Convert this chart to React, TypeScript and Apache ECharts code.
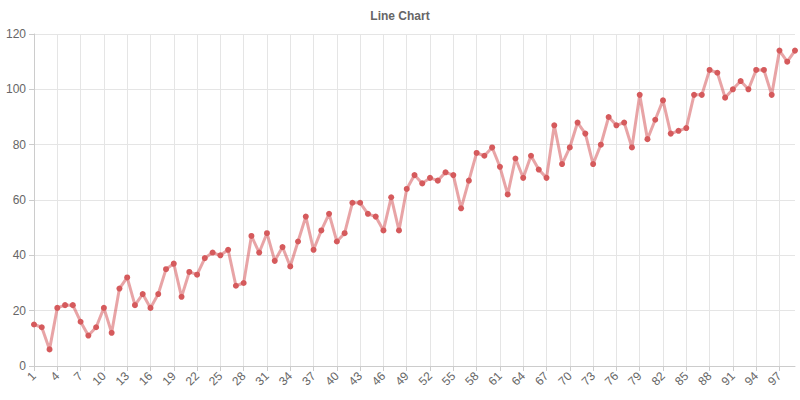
import React, { useEffect, useRef } from "react";
import * as echarts from "echarts";

const categories: string[] = Array.from({ length: 99 }, (_, i) => String(i + 1));
const values: number[] = [
  15, 14, 6, 21, 22, 22, 16, 11, 14, 21,
  12, 28, 32, 22, 26, 21, 26, 35, 37, 25,
  34, 33, 39, 41, 40, 42, 29, 30, 47, 41,
  48, 38, 43, 36, 45, 54, 42, 49, 55, 45,
  48, 59, 59, 55, 54, 49, 61, 49, 64, 69,
  66, 68, 67, 70, 69, 57, 67, 77, 76, 79,
  72, 62, 75, 68, 76, 71, 68, 87, 73, 79,
  88, 84, 73, 80, 90, 87, 88, 79, 98, 82,
  89, 96, 84, 85, 86, 98, 98, 107, 106, 97,
  100, 103, 100, 107, 107, 98, 114, 110, 114,
];
const titleText = "Line Chart";

export default function App() {
  const ref = useRef<HTMLDivElement>(null);
  useEffect(() => {
    document.body.style.margin = "0";
    const chart = echarts.init(ref.current!, null, { renderer: "svg" });
    const font = "Liberation Sans, Arial, sans-serif";
    chart.setOption({
      animation: false,
      textStyle: { fontFamily: font },
      title: {
        text: titleText,
        left: "center",
        top: 5,
        textStyle: { fontSize: 12, fontWeight: "bold", color: "#666", fontFamily: font },
      },
      grid: { left: 34, right: 5, top: 34, bottom: 34, containLabel: false },
      xAxis: {
        type: "category",
        data: categories,
        boundaryGap: false,
        axisLine: { lineStyle: { color: "#ccc" } },
        axisTick: { interval: 2, lineStyle: { color: "#ccc" } },
        axisLabel: { interval: 2, rotate: 45, color: "#666", fontSize: 12, fontFamily: font },
        splitLine: { show: true, interval: 2, lineStyle: { color: "#e5e5e5" } },
      },
      yAxis: {
        type: "value",
        min: 0,
        max: 120,
        interval: 20,
        axisLine: { show: true, lineStyle: { color: "#ccc" } },
        axisTick: { show: true, lineStyle: { color: "#ccc" } },
        axisLabel: { color: "#666", fontSize: 12, fontFamily: font },
        splitLine: { show: true, lineStyle: { color: "#e5e5e5" } },
      },
      series: [
        {
          type: "line",
          data: values,
          symbol: "circle",
          symbolSize: 6,
          showAllSymbol: true,
          itemStyle: { color: "#d55a5c" },
          lineStyle: { width: 3, color: "rgba(213,90,92,0.55)" },
        },
      ],
    });
    return () => chart.dispose();
  }, []);
  return <div ref={ref} style={{ width: 800, height: 400 }} />;
}
